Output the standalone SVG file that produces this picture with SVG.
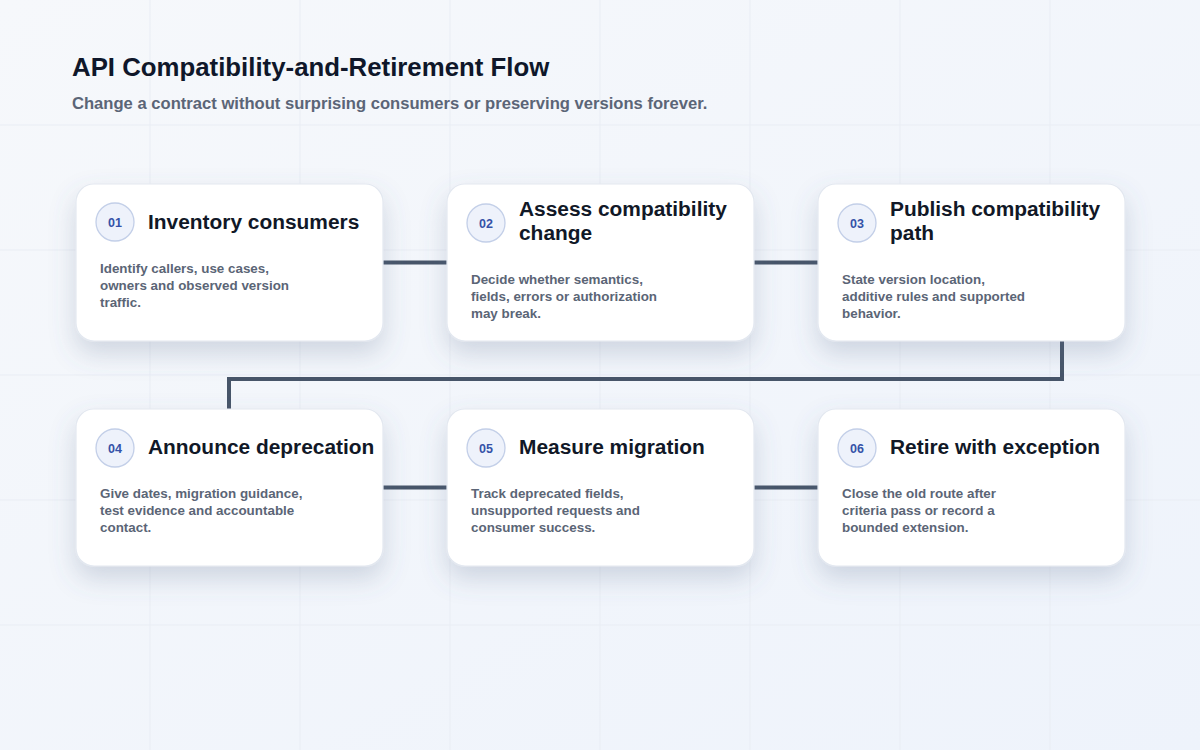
<svg xmlns="http://www.w3.org/2000/svg" width="1200" height="750" viewBox="0 0 1200 750">
  <defs>
    <linearGradient id="bg" x1="0" y1="0" x2="1" y2="1">
      <stop offset="0" stop-color="#f6f8fb"/>
      <stop offset="1" stop-color="#eef3fb"/>
    </linearGradient>
    <filter id="shadow" x="-25%" y="-25%" width="150%" height="180%">
      <feDropShadow dx="0" dy="12" stdDeviation="13" flood-color="#5b6b8a" flood-opacity="0.24"/>
    </filter>
  </defs>
  <style>
    .card { fill: #ffffff; stroke: #e3e8f0; stroke-width: 1.2; filter: url(#shadow); }
    .badge { fill: #eef2fb; stroke: #c3cfe8; stroke-width: 1.3; }
    .num { font-family: "Liberation Sans", Arial, sans-serif; font-weight: 700; font-size: 12.5px; fill: #3552a8; text-anchor: middle; }
    .title { font-family: "Liberation Sans", Arial, sans-serif; font-weight: 700; font-size: 20.9px; fill: #111827; }
    .body { font-family: "Liberation Sans", Arial, sans-serif; font-weight: 700; font-size: 13.4px; fill: #5b6576; }
    .grid { stroke: #e9edf4; stroke-width: 1; }
    .conn { fill: none; stroke: #475569; stroke-width: 4; stroke-linejoin: miter; }
    .h1 { font-family: "Liberation Sans", Arial, sans-serif; font-weight: 700; font-size: 25.8px; fill: #0f172a; }
    .h2 { font-family: "Liberation Sans", Arial, sans-serif; font-weight: 700; font-size: 16.6px; fill: #5b6577; }
  </style>
  <rect width="1200" height="750" fill="url(#bg)"/>
  <g id="grid">
    <line class="grid" x1="150" y1="0" x2="150" y2="750"/>
    <line class="grid" x1="300" y1="0" x2="300" y2="750"/>
    <line class="grid" x1="450" y1="0" x2="450" y2="750"/>
    <line class="grid" x1="600" y1="0" x2="600" y2="750"/>
    <line class="grid" x1="750" y1="0" x2="750" y2="750"/>
    <line class="grid" x1="900" y1="0" x2="900" y2="750"/>
    <line class="grid" x1="1050" y1="0" x2="1050" y2="750"/>
    <line class="grid" x1="0" y1="125" x2="1200" y2="125"/>
    <line class="grid" x1="0" y1="250" x2="1200" y2="250"/>
    <line class="grid" x1="0" y1="375" x2="1200" y2="375"/>
    <line class="grid" x1="0" y1="500" x2="1200" y2="500"/>
    <line class="grid" x1="0" y1="625" x2="1200" y2="625"/>
  </g>
  <g id="header">
    <text class="h1" x="72" y="76">API Compatibility-and-Retirement Flow</text>
    <text class="h2" x="72" y="109">Change a contract without surprising consumers or preserving versions forever.</text>
  </g>
  <g id="connectors">
    <line class="conn" x1="383" y1="262.5" x2="447" y2="262.5"/>
    <line class="conn" x1="754" y1="262.5" x2="818" y2="262.5"/>
    <path class="conn" d="M1062 341 V379 H229 V409"/>
    <line class="conn" x1="383" y1="487.5" x2="447" y2="487.5"/>
    <line class="conn" x1="754" y1="487.5" x2="818" y2="487.5"/>
  </g>
  <g id="node-01">
    <rect class="card" x="76" y="184" width="307" height="157" rx="18"/>
    <circle class="badge" cx="115" cy="222" r="19"/>
    <text class="num" x="115" y="226.5">01</text>
    <text class="title" x="148" y="229">Inventory consumers</text>
    <text class="body" x="100" y="273">Identify callers, use cases,</text>
    <text class="body" x="100" y="290">owners and observed version</text>
    <text class="body" x="100" y="307">traffic.</text>
  </g>
  <g id="node-02">
    <rect class="card" x="447" y="184" width="307" height="157" rx="18"/>
    <circle class="badge" cx="486" cy="223" r="19"/>
    <text class="num" x="486" y="227.5">02</text>
    <text class="title" x="519" y="216">Assess compatibility</text>
    <text class="title" x="519" y="240">change</text>
    <text class="body" x="471" y="284">Decide whether semantics,</text>
    <text class="body" x="471" y="301">fields, errors or authorization</text>
    <text class="body" x="471" y="318">may break.</text>
  </g>
  <g id="node-03">
    <rect class="card" x="818" y="184" width="307" height="157" rx="18"/>
    <circle class="badge" cx="857" cy="223" r="19"/>
    <text class="num" x="857" y="227.5">03</text>
    <text class="title" x="890" y="216">Publish compatibility</text>
    <text class="title" x="890" y="240">path</text>
    <text class="body" x="842" y="284">State version location,</text>
    <text class="body" x="842" y="301">additive rules and supported</text>
    <text class="body" x="842" y="318">behavior.</text>
  </g>
  <g id="node-04">
    <rect class="card" x="76" y="409" width="307" height="157" rx="18"/>
    <circle class="badge" cx="115" cy="448" r="19"/>
    <text class="num" x="115" y="452.5">04</text>
    <text class="title" x="148" y="454">Announce deprecation</text>
    <text class="body" x="100" y="498">Give dates, migration guidance,</text>
    <text class="body" x="100" y="515">test evidence and accountable</text>
    <text class="body" x="100" y="532">contact.</text>
  </g>
  <g id="node-05">
    <rect class="card" x="447" y="409" width="307" height="157" rx="18"/>
    <circle class="badge" cx="486" cy="448" r="19"/>
    <text class="num" x="486" y="452.5">05</text>
    <text class="title" x="519" y="454">Measure migration</text>
    <text class="body" x="471" y="498">Track deprecated fields,</text>
    <text class="body" x="471" y="515">unsupported requests and</text>
    <text class="body" x="471" y="532">consumer success.</text>
  </g>
  <g id="node-06">
    <rect class="card" x="818" y="409" width="307" height="157" rx="18"/>
    <circle class="badge" cx="857" cy="448" r="19"/>
    <text class="num" x="857" y="452.5">06</text>
    <text class="title" x="890" y="454">Retire with exception</text>
    <text class="body" x="842" y="498">Close the old route after</text>
    <text class="body" x="842" y="515">criteria pass or record a</text>
    <text class="body" x="842" y="532">bounded extension.</text>
  </g>
</svg>
